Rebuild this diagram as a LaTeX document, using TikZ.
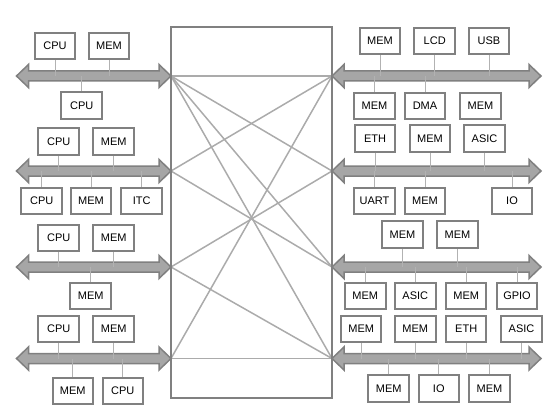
\documentclass[tikz,border=0pt]{standalone}
\usepackage{fontspec}
\setmainfont{Liberation Sans}
\newcommand{\busarrow}[3]{%
  \draw[bus] (#1,#3) -- (#1+12,#3-11.5) -- (#1+12,#3-5) -- (#2-12,#3-5) -- (#2-12,#3-11.5)
    -- (#2,#3) -- (#2-12,#3+11.5) -- (#2-12,#3+5) -- (#1+12,#3+5) -- (#1+12,#3+11.5) -- cycle;}
\begin{document}
\begin{tikzpicture}[x=1pt,y=-1pt,
  box/.style={draw=black!50,line width=2pt,fill=white,minimum width=40.5pt,minimum height=26.5pt,
    inner sep=0pt,font=\fontsize{11}{13}\selectfont},
  bus/.style={draw=black!50,fill=black!35,line width=1.5pt,line join=miter},
  link/.style={black!33,line width=1.5pt},
  stub/.style={black!30,line width=1pt}]
  \useasboundingbox (0,0) rectangle (555,412);
  \coordinate (l1) at (171,76);
  \coordinate (l2) at (171,171);
  \coordinate (l3) at (171,267);
  \coordinate (l4) at (171,358.5);
  \coordinate (r1) at (332,76);
  \coordinate (r2) at (332,171);
  \coordinate (r3) at (332,267);
  \coordinate (r4) at (332,358.5);
  \foreach \a/\b in {1/1,1/2,1/3,1/4,2/1,2/3,3/2,3/4,4/1,4/4}
    \draw[link] (l\a) -- (r\b);
  \draw[black!50,line width=2pt] (171,27) rectangle (332,398);
  \busarrow{16.5}{171}{76}
  \busarrow{16.5}{171}{171}
  \busarrow{16.5}{171}{267}
  \busarrow{16.5}{171}{358.5}
  \busarrow{332}{541}{76}
  \busarrow{332}{541}{171}
  \busarrow{332}{541}{267}
  \busarrow{332}{541}{358.5}
  % left side
  \node[box] (a1) at (55,46) {CPU};
  \node[box] (a2) at (109,46) {MEM};
  \node[box] (a3) at (81.7,105.5) {CPU};
  \node[box] (b1) at (58.7,141.7) {CPU};
  \node[box] (b2) at (113.7,141.7) {MEM};
  \node[box] (b3) at (41.7,201) {CPU};
  \node[box] (b4) at (91,201) {MEM};
  \node[box] (b5) at (141.7,201) {ITC};
  \node[box] (c1) at (58.7,238) {CPU};
  \node[box] (c2) at (113.7,238) {MEM};
  \node[box] (c3) at (90.7,296) {MEM};
  \node[box] (d1) at (58.7,329) {CPU};
  \node[box] (d2) at (113.7,329) {MEM};
  \node[box] (d3) at (72.8,391) {MEM};
  \node[box] (d4) at (122.8,391) {CPU};
  % right side
  \node[box] (e1) at (380,41) {MEM};
  \node[box] (e2) at (434.7,41) {LCD};
  \node[box] (e3) at (489,41) {USB};
  \node[box] (e4) at (374.5,106) {MEM};
  \node[box] (e5) at (425,106) {DMA};
  \node[box] (e6) at (480.5,106) {MEM};
  \node[box] (f1) at (375,138.3) {ETH};
  \node[box] (f2) at (430,138.3) {MEM};
  \node[box] (f3) at (484.5,138.3) {ASIC};
  \node[box] (f4) at (374.5,201) {UART};
  \node[box] (f5) at (425,201) {MEM};
  \node[box] (f6) at (512,201) {IO};
  \node[box] (g1) at (402.5,234.5) {MEM};
  \node[box] (g2) at (457.5,234.5) {MEM};
  \node[box] (g3) at (365.3,296) {MEM};
  \node[box] (g4) at (415.3,296) {ASIC};
  \node[box] (g5) at (466.2,296) {MEM};
  \node[box] (g6) at (517,296) {GPIO};
  \node[box] (h1) at (361.2,329) {MEM};
  \node[box] (h2) at (415.3,329) {MEM};
  \node[box] (h3) at (466.2,329) {ETH};
  \node[box] (h4) at (521.5,329) {ASIC};
  \node[box] (h5) at (388.7,388.5) {MEM};
  \node[box] (h6) at (438.8,388.5) {IO};
  \node[box] (h7) at (489.5,388.5) {MEM};
  \foreach \n/\b in {a1/l1,a2/l1,b1/l2,b2/l2,c1/l3,c2/l3,d1/l4,d2/l4,
    e1/r1,e2/r1,e3/r1,f1/r2,f2/r2,f3/r2,g1/r3,g2/r3,h1/r4,h2/r4,h3/r4,h4/r4}
    \draw[stub] (\n.south) -- (\n.south |- \b);
  \foreach \n/\b in {a3/l1,b3/l2,b4/l2,b5/l2,c3/l3,d3/l4,d4/l4,
    e4/r1,e5/r1,f4/r2,f5/r2,f6/r2,g3/r3,g4/r3,g5/r3,g6/r3,h5/r4,h6/r4,h7/r4}
    \draw[stub] (\n.north) -- (\n.north |- \b);
\end{tikzpicture}
\end{document}
